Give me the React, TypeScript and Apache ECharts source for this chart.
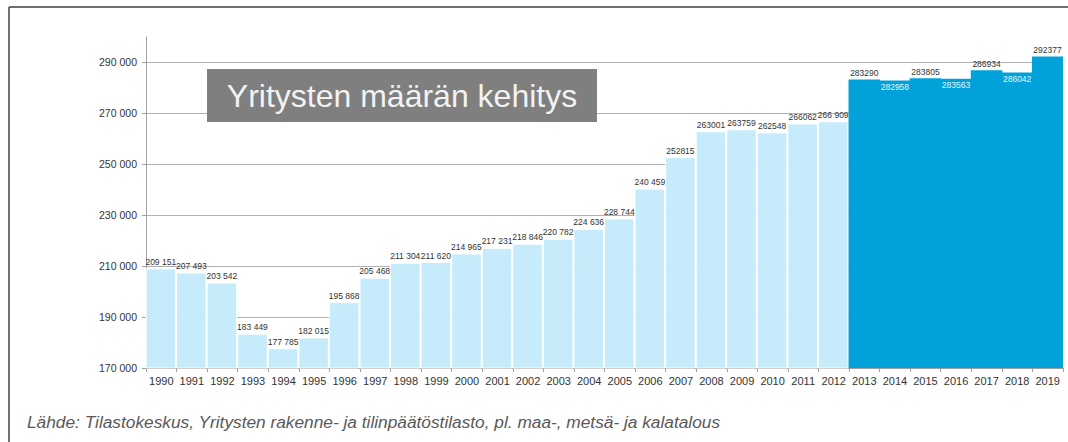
import React, { useEffect, useRef } from 'react';
import * as echarts from 'echarts';

const years = [
  '1990', '1991', '1992', '1993', '1994', '1995', '1996', '1997', '1998', '1999',
  '2000', '2001', '2002', '2003', '2004', '2005', '2006', '2007', '2008', '2009',
  '2010', '2011', '2012', '2013', '2014', '2015', '2016', '2017', '2018', '2019',
];
const companyCounts = [
  209151, 207493, 203542, 183449, 177785, 182015, 195868, 205468, 211304, 211620,
  214965, 217231, 218846, 220782, 224636, 228744, 240459, 252815, 263001, 263759,
  262548, 266062, 266909, 283290, 282958, 283805, 283563, 286934, 286042, 292377,
];
const valueLabels = [
  '209 151', '207 493', '203 542', '183 449', '177 785', '182 015', '195 868', '205 468', '211 304', '211 620',
  '214 965', '217 231', '218 846', '220 782', '224 636', '228 744', '240 459', '252815', '263001', '263759',
  '262548', '266062', '266 909', '283290', '282958', '283805', '283563', '286934', '286042', '292377',
];
const yTickValues = [170000, 190000, 210000, 230000, 250000, 270000, 290000];
const insideLabelYears = ['2014', '2016', '2018'];
const highlightFromYear = '2013';
const chartTitle = 'Yritysten määrän kehitys';
const sourceNote = 'Lähde: Tilastokeskus, Yritysten rakenne- ja tilinpäätöstilasto, pl. maa-, metsä- ja kalatalous';

export default function App() {
  const ref = useRef<HTMLDivElement>(null);
  useEffect(() => {
    if (!ref.current) return;
    const chart = echarts.init(ref.current, undefined, { renderer: 'svg' });
    const hlIndex = years.indexOf(highlightFromYear);
    const labelFor = (i: number) =>
      insideLabelYears.includes(years[i])
        ? { position: 'insideTop', color: '#e8f6fc', distance: 2 }
        : { position: 'top', color: '#333333', distance: 2 };
    const lightData = companyCounts.map((v, i) =>
      i < hlIndex ? { value: v, label: labelFor(i) } : null
    );
    const darkData = companyCounts.map((v, i) =>
      i >= hlIndex ? { value: v, label: labelFor(i) } : null
    );
    const font = '"Liberation Sans", Arial, sans-serif';
    const labelBase = {
      show: true,
      fontSize: 8.5,
      fontFamily: font,
      formatter: (p: any) => valueLabels[p.dataIndex],
    };
    chart.setOption({
      animation: false,
      backgroundColor: '#ffffff',
      grid: { left: 146, right: 5, top: 37, bottom: 74 },
      xAxis: {
        type: 'category',
        data: years,
        boundaryGap: true,
        axisLine: { lineStyle: { color: '#a0a0a0', width: 1 } },
        axisTick: { show: true, length: 4, lineStyle: { color: '#a0a0a0' } },
        axisLabel: { color: '#333333', fontSize: 11, fontFamily: font, margin: 7, interval: 0 },
      },
      yAxis: {
        type: 'value',
        min: 170000,
        max: 300000,
        interval: 20000,
        axisLine: { show: true, lineStyle: { color: '#a0a0a0', width: 1 } },
        axisTick: { show: true, length: 4, lineStyle: { color: '#a0a0a0' }, customValues: yTickValues },
        axisLabel: {
          color: '#333333',
          fontSize: 10.5,
          fontFamily: font,
          margin: 9,
          customValues: yTickValues,
          formatter: (v: number) => (v > 290000 ? '' : `${Math.round(v / 1000)} 000`),
        },
        splitLine: {
          show: true,
          lineStyle: {
            color: ['#b0b0b0', '#b0b0b0', '#b0b0b0', '#b0b0b0', '#b0b0b0', '#b0b0b0', '#b0b0b0', 'rgba(0,0,0,0)'],
            width: 1,
          },
        },
      },
      series: [
        {
          type: 'bar',
          data: lightData,
          barWidth: '100%',
          barGap: '-100%',
          z: 2,
          itemStyle: { color: '#c6ecfb', borderColor: '#ffffff', borderWidth: 1 },
          label: labelBase,
        },
        {
          type: 'bar',
          data: darkData,
          barWidth: 31.6,
          barGap: '-100%',
          z: 3,
          itemStyle: { color: '#00a2d9' },
          label: labelBase,
        },
      ],
      graphic: [
        {
          type: 'line',
          shape: { x1: 9, y1: 7, x2: 1068, y2: 7 },
          style: { stroke: '#404040', lineWidth: 1.5 },
          z: 10,
        },
        {
          type: 'line',
          shape: { x1: 9, y1: 7, x2: 9, y2: 442 },
          style: { stroke: '#404040', lineWidth: 1.5 },
          z: 10,
        },
        {
          type: 'rect',
          shape: { x: 207, y: 69, width: 390, height: 53 },
          style: { fill: '#7f7f7f' },
          z: 10,
        },
        {
          type: 'text',
          x: 402,
          y: 96,
          z: 11,
          style: {
            text: chartTitle,
            fill: '#f2f2f2',
            font: `32px ${font}`,
            align: 'center',
            verticalAlign: 'middle',
          },
        },
        {
          type: 'text',
          x: 27,
          y: 422,
          z: 11,
          style: {
            text: sourceNote,
            fill: '#595959',
            font: `italic 17.3px ${font}`,
            align: 'left',
            verticalAlign: 'middle',
          },
        },
      ],
    });
    return () => chart.dispose();
  }, []);
  return (
    <div
      ref={ref}
      style={{ position: 'fixed', left: 0, top: 0, width: 1068, height: 442 }}
    />
  );
}
